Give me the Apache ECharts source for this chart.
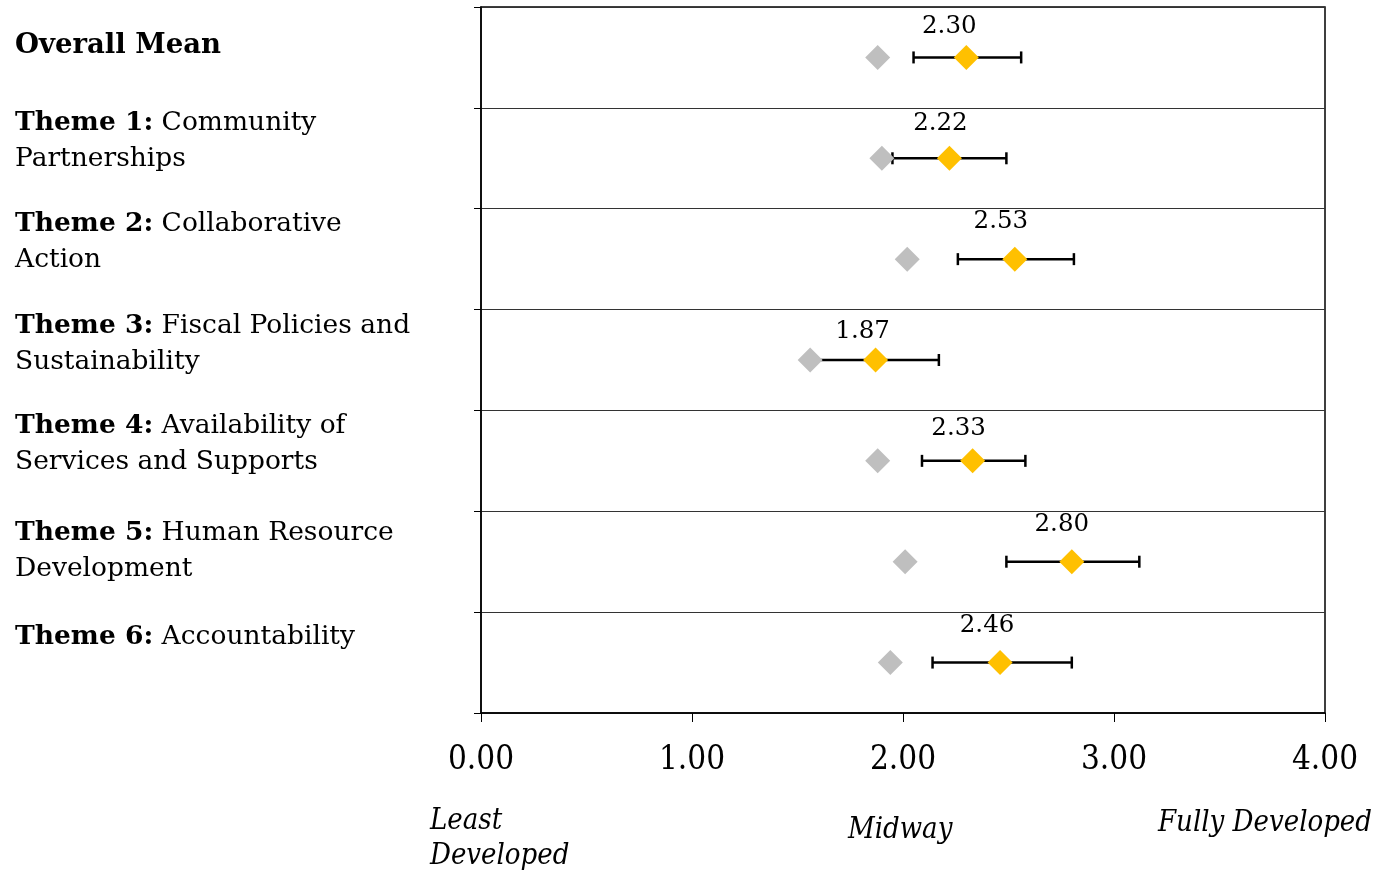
<!DOCTYPE html>
<html>
<head>
<meta charset="utf-8">
<script src="https://cdn.jsdelivr.net/npm/echarts@6/dist/echarts.min.js"></script>
<style>
html,body{margin:0;padding:0;background:#fff;}
#chart{width:1375px;height:870px;}
</style>
</head>
<body>
<div id="chart"></div>
<script>
// ---- data ----
var categories = [
  'Overall Mean',
  'Theme 1: Community\nPartnerships',
  'Theme 2: Collaborative\nAction',
  'Theme 3: Fiscal Policies and\nSustainability',
  'Theme 4: Availability of\nServices and Supports',
  'Theme 5: Human Resource\nDevelopment',
  'Theme 6: Accountability'
];
var means = [2.30, 2.22, 2.53, 1.87, 2.33, 2.80, 2.46];
var comparison = [1.88, 1.90, 2.02, 1.56, 1.88, 2.01, 1.94];
var lows = [2.05, 1.95, 2.26, 1.58, 2.09, 2.49, 2.14];
var highs = [2.56, 2.49, 2.81, 2.17, 2.58, 3.12, 2.80];
var xTicks = [0, 1, 2, 3, 4];
var scaleNotes = ['Least\nDeveloped', 'Midway', 'Fully Developed'];

// ---- layout (not data) ----
var labelLift = [24, 34, 34, 32, 34, 22, 50];
var valueLabelShift = [[-17, 5], [-9, 1], [-14, -2], [-13, 8], [-14, 4], [-10, -1], [-13, -1]];

var SERIF = '"DejaVu Serif", serif';
var COND = '"DejaVu Serif Condensed", "DejaVu Serif", serif';

function fmtCat(v) {
  var lines = v.split('\n');
  var out = [];
  lines.forEach(function (ln, i) {
    if (i === 0) {
      var m = ln.match(/^(Theme \d+:)(.*)$/);
      if (m) { out.push('{b|' + m[1] + '}{n|' + m[2] + '}'); }
      else { out.push('{bb|' + ln + '}'); }
    } else {
      out.push('{n|' + ln + '}');
    }
  });
  return out.join('\n');
}

var chart = echarts.init(document.getElementById('chart'));
var option = {
  animation: false,
  grid: { left: 481, right: 50, top: 7, bottom: 157, containLabel: false, outerBoundsMode: 'none',
          show: true, borderColor: '#000', borderWidth: 1.5 },
  xAxis: {
    type: 'value', min: 0, max: 4, interval: 1,
    axisLine: { show: true, onZero: false, lineStyle: { color: '#000', width: 1.5 } },
    axisTick: { show: true, length: 9, lineStyle: { color: '#000' } },
    splitLine: { show: false },
    axisLabel: {
      margin: 31, color: '#000', fontFamily: COND, fontSize: 33,
      formatter: function (v) { return v.toFixed(2); }
    }
  },
  yAxis: {
    type: 'category',
    data: categories.map(function (c, i) {
      return { value: c, textStyle: { align: 'left', verticalAlign: 'middle', padding: [0, 0, labelLift[i], 0] } };
    }),
    inverse: true,
    axisLine: { show: true, lineStyle: { color: '#000', width: 1.5 } },
    axisTick: { show: true, length: 7, lineStyle: { color: '#000' } },
    splitLine: { show: true, lineStyle: { color: '#333', width: 1 } },
    axisLabel: {
      align: 'left', margin: 466, verticalAlign: 'middle',
      formatter: fmtCat,
      rich: {
        bb: { fontFamily: SERIF, fontWeight: 'bold', fontSize: 27.5, color: '#000', lineHeight: 36 },
        b: { fontFamily: SERIF, fontWeight: 'bold', fontSize: 26.5, color: '#000', lineHeight: 36 },
        n: { fontFamily: SERIF, fontSize: 26.5, color: '#000', lineHeight: 36 }
      }
    }
  },
  series: [
    {
      type: 'custom',
      name: 'range',
      data: categories.map(function (c, i) { return [lows[i], highs[i], i]; }),
      encode: { x: [0, 1], y: 2 },
      renderItem: function (params, api) {
        var p1 = api.coord([api.value(0), api.value(2)]);
        var p2 = api.coord([api.value(1), api.value(2)]);
        var h = 6;
        var st = { stroke: '#000', lineWidth: 2.5 };
        return {
          type: 'group',
          children: [
            { type: 'line', shape: { x1: p1[0], y1: p1[1], x2: p2[0], y2: p2[1] }, style: st },
            { type: 'line', shape: { x1: p1[0], y1: p1[1] - h, x2: p1[0], y2: p1[1] + h }, style: st },
            { type: 'line', shape: { x1: p2[0], y1: p2[1] - h, x2: p2[0], y2: p2[1] + h }, style: st }
          ]
        };
      },
      z: 2
    },
    {
      type: 'scatter', name: 'comparison',
      data: comparison.map(function (v, i) { return [v, i]; }),
      symbol: 'diamond', symbolSize: [25, 25],
      itemStyle: { color: '#BFBFBF', opacity: 1 },
      z: 3
    },
    {
      type: 'scatter', name: 'mean',
      data: means.map(function (v, i) {
        return { value: [v, i], label: { offset: valueLabelShift[i] } };
      }),
      symbol: 'diamond', symbolSize: [25, 25],
      itemStyle: { color: '#FFC000', opacity: 1 },
      label: {
        show: true, position: 'top', distance: 11,
        fontFamily: SERIF, fontSize: 24.5, color: '#000',
        formatter: function (p) { return p.value[0].toFixed(2); }
      },
      z: 4
    }
  ],
  graphic: [
    { type: 'text', left: 430, top: 804, style: { text: scaleNotes[0], font: 'italic 29px ' + COND, fill: '#000', lineHeight: 35 } },
    { type: 'text', left: 848, top: 816, style: { text: scaleNotes[1], font: 'italic 29px ' + COND, fill: '#000' } },
    { type: 'text', left: 1158, top: 809, style: { text: scaleNotes[2], font: 'italic 29px ' + COND, fill: '#000' } }
  ]
};
chart.setOption(option);
</script>
</body>
</html>
